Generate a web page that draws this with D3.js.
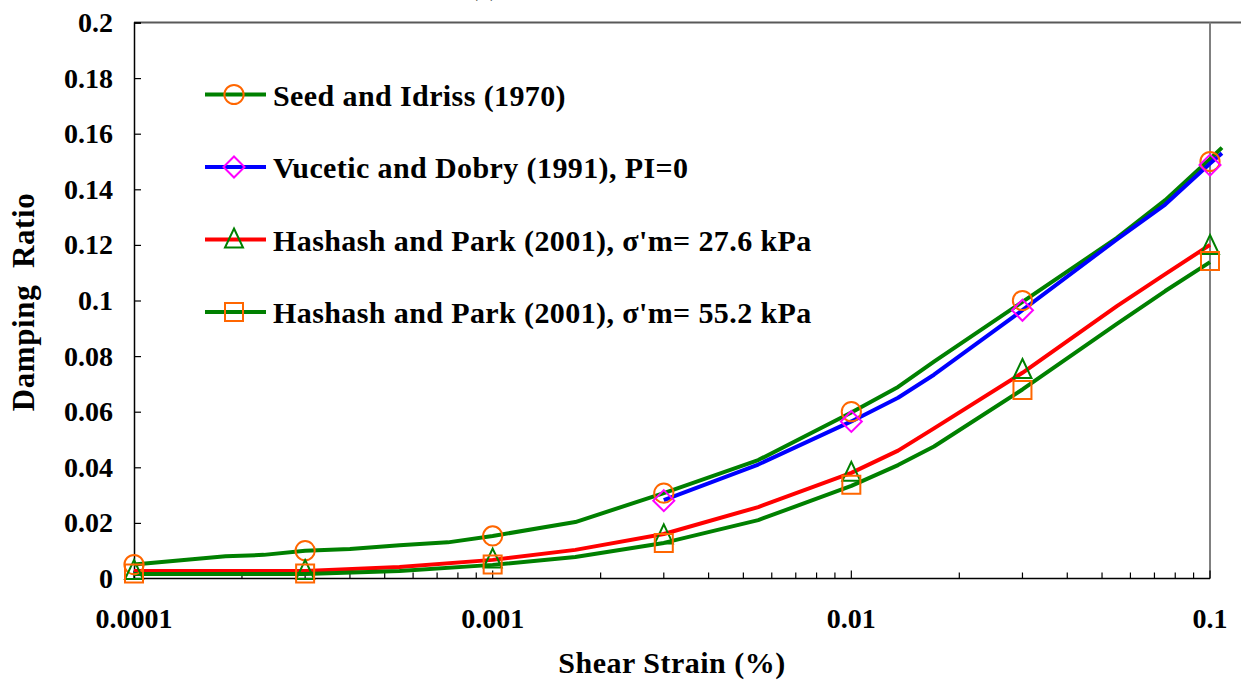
<!DOCTYPE html>
<html>
<head>
<meta charset="utf-8">
<script src="https://cdn.jsdelivr.net/npm/d3@7"></script>
<style>
    body { margin: 0; background: #fff; }
</style>
</head>
<body>
<svg id="chart" width="1241" height="686"></svg>
<script>
const seedStrain = [0.0001, 0.00018, 0.00023, 0.0003, 0.0004, 0.00055, 0.00075, 0.001, 0.0017, 0.003, 0.0055, 0.01, 0.0135, 0.017, 0.03, 0.055, 0.075, 0.1, 0.108]
const seedDamping = [0.005, 0.008, 0.0085, 0.010, 0.0106, 0.012, 0.013, 0.0153, 0.0203, 0.0307, 0.0426, 0.0597, 0.0689, 0.078, 0.0995, 0.1225, 0.1361, 0.1509, 0.155]

const vuceticStrain = [0.003, 0.0055, 0.01, 0.0135, 0.017, 0.03, 0.055, 0.075, 0.1, 0.108]
const vuceticDamping = [0.0282, 0.041, 0.0565, 0.065, 0.0733, 0.0965, 0.122, 0.1345, 0.1493, 0.153]

const hashashStrain = [0.0001, 0.0003, 0.00055, 0.001, 0.0017, 0.003, 0.0055, 0.01, 0.0135, 0.017, 0.03, 0.055, 0.075, 0.1]
const hp276Damping = [0.0027, 0.0027, 0.0041, 0.0067, 0.0103, 0.016, 0.0257, 0.038, 0.046, 0.054, 0.074, 0.098, 0.1095, 0.12]
const hp552Damping = [0.0016, 0.0016, 0.0027, 0.0049, 0.0077, 0.0128, 0.021, 0.0333, 0.0408, 0.0475, 0.068, 0.0916, 0.1034, 0.1138]

// marker points
const markStrain = [0.0001, 0.0003, 0.001, 0.003, 0.01, 0.03, 0.1]
const seedMarks = [0.005, 0.010, 0.0153, 0.0307, 0.06, 0.1, 0.15]
const vuceticMarkStrain = [0.003, 0.01, 0.03, 0.1]
const vuceticMarks = [0.028, 0.0565, 0.0965, 0.1487]
const hp276Marks = [0.0027, 0.0027, 0.0068, 0.0155, 0.038, 0.075, 0.1196]
const hp552Marks = [0.0018, 0.0018, 0.005, 0.0128, 0.0337, 0.0678, 0.1142]

const yTicks = [0, 0.02, 0.04, 0.06, 0.08, 0.1, 0.12, 0.14, 0.16, 0.18, 0.2]
const xTicks = [0.0001, 0.001, 0.01, 0.1]

const legendLabels = [
    "Seed and Idriss (1970)",
    "Vucetic and Dobry (1991), PI=0",
    "Hashash and Park (2001), \u03c3'm= 27.6 kPa",
    "Hashash and Park (2001), \u03c3'm= 55.2 kPa"
]

const serif = "'Liberation Serif', 'Times New Roman', serif"
const layout = { left: 134, right: 1210, top: 22.5, bottom: 578.5 }

const xScale = d3.scaleLog().domain([0.0001, 0.1]).range([layout.left, layout.right])
const yScale = d3.scaleLinear().domain([0, 0.2]).range([layout.bottom, layout.top])

const svg = d3.select("#chart")

const zip = (xs, ys) => xs.map((x, i) => [x, ys[i]])

const series = [
    { line: zip(seedStrain, seedDamping), marks: zip(markStrain, seedMarks), lineColor: "#008000", markColor: "#ff6600", shape: "circle" },
    { line: zip(vuceticStrain, vuceticDamping), marks: zip(vuceticMarkStrain, vuceticMarks), lineColor: "#0000ff", markColor: "#ff00ff", shape: "diamond" },
    { line: zip(hashashStrain, hp276Damping), marks: zip(markStrain, hp276Marks), lineColor: "#ff0000", markColor: "#008000", shape: "triangle" },
    { line: zip(hashashStrain, hp552Damping), marks: zip(markStrain, hp552Marks), lineColor: "#008000", markColor: "#ff6600", shape: "square" }
]

const addText = (sel) => sel
    .attr("font-family", serif)
    .attr("font-weight", "bold")
    .attr("fill", "#000")

// partial title sitting above the frame, cut off as in the source
svg.append("text")
    .call(addText)
    .attr("x", 484)
    .attr("y", -4)
    .attr("text-anchor", "middle")
    .attr("font-size", 24)
    .text("(a)")

// frame
svg.append("line")
    .attr("x1", layout.left).attr("x2", 1241)
    .attr("y1", layout.top).attr("y2", layout.top)
    .attr("stroke", "#595959").attr("stroke-width", 2)
svg.append("line")
    .attr("x1", layout.right).attr("x2", layout.right)
    .attr("y1", layout.top).attr("y2", layout.bottom)
    .attr("stroke", "#808080").attr("stroke-width", 2)

// y axis
const yAxis = d3.axisRight(yScale)
    .tickValues(yTicks)
    .tickSize(7)
    .tickFormat("")
svg.append("g")
    .attr("transform", `translate(${layout.left},0)`)
    .call(yAxis)
    .call(g => g.select(".domain").attr("stroke", "#000").attr("stroke-width", 1.5))
    .call(g => g.selectAll(".tick line").attr("stroke", "#000").attr("stroke-width", 1.2))

svg.append("g")
    .selectAll("text")
    .data(yTicks)
    .join("text")
    .call(addText)
    .attr("x", 113)
    .attr("y", d => yScale(d))
    .attr("dy", "0.34em")
    .attr("text-anchor", "end")
    .attr("font-size", 28)
    .text(d => d3.format("")(d))

// x axis with minor ticks
const minorTicks = xScale.ticks().filter(t => !xTicks.some(m => Math.abs(m - t) / t < 1e-6))
const xAxisG = svg.append("g").attr("transform", `translate(0,${layout.bottom})`)
xAxisG.append("line")
    .attr("x1", layout.left).attr("x2", layout.right)
    .attr("stroke", "#000").attr("stroke-width", 1.5)
xAxisG.selectAll("line.major")
    .data(xTicks)
    .join("line")
    .attr("class", "major")
    .attr("x1", d => xScale(d)).attr("x2", d => xScale(d))
    .attr("y1", 0).attr("y2", -8)
    .attr("stroke", "#000").attr("stroke-width", 1.2)
xAxisG.selectAll("line.minor")
    .data(minorTicks)
    .join("line")
    .attr("class", "minor")
    .attr("x1", d => xScale(d)).attr("x2", d => xScale(d))
    .attr("y1", 0).attr("y2", -6)
    .attr("stroke", "#000").attr("stroke-width", 1.2)
xAxisG.selectAll("text")
    .data(xTicks)
    .join("text")
    .call(addText)
    .attr("x", d => xScale(d))
    .attr("y", 49)
    .attr("text-anchor", "middle")
    .attr("font-size", 28)
    .text(d => d3.format("")(d))

// axis titles
svg.append("text")
    .call(addText)
    .attr("x", 672)
    .attr("y", 673)
    .attr("text-anchor", "middle")
    .attr("font-size", 30)
    .attr("letter-spacing", 0.5)
    .text("Shear Strain (%)")

svg.append("text")
    .call(addText)
    .attr("transform", "translate(34,302) rotate(-90)")
    .attr("text-anchor", "middle")
    .attr("font-size", 31)
    .attr("letter-spacing", 0.6)
    .style("white-space", "pre")
    .text("Damping  Ratio")

// curves
const line = d3.line()
    .x(d => xScale(d[0]))
    .y(d => yScale(d[1]))

svg.append("g")
    .selectAll("path")
    .data(series)
    .join("path")
    .attr("d", d => line(d.line))
    .attr("fill", "none")
    .attr("stroke", d => d.lineColor)
    .attr("stroke-width", 4)
    .attr("stroke-linejoin", "round")

const shapePath = (shape) => {
    if (shape === "circle") return d3.symbol(d3.symbolCircle, 290)()
    if (shape === "square") return "M-9,-9H9V9H-9Z"
    if (shape === "diamond") return "M0,-10.5L10.5,0L0,10.5L-10.5,0Z"
    return "M0,-11L9,8H-9Z"
}

const drawMark = (sel, d) => sel
    .attr("d", shapePath(d.shape))
    .attr("fill", "none")
    .attr("stroke", d.markColor)
    .attr("stroke-width", 2)

series.forEach(s => {
    svg.append("g")
        .selectAll("path")
        .data(s.marks)
        .join("path")
        .attr("transform", p => `translate(${xScale(p[0])},${yScale(p[1])})`)
        .call(sel => drawMark(sel, s))
})

// legend
const legendRows = [94.5, 167, 239.5, 312]
const legend = svg.append("g")
series.forEach((s, i) => {
    const row = legend.append("g").attr("transform", `translate(0,${legendRows[i]})`)
    row.append("line")
        .attr("x1", 205).attr("x2", 266)
        .attr("stroke", s.lineColor).attr("stroke-width", 4)
    row.append("path")
        .attr("transform", "translate(234,0)")
        .call(sel => drawMark(sel, s))
    row.append("text")
        .call(addText)
        .attr("x", 273)
        .attr("y", 11)
        .attr("font-size", 30)
        .attr("letter-spacing", 0.4)
        .text(legendLabels[i])
})
</script>
</body>
</html>
